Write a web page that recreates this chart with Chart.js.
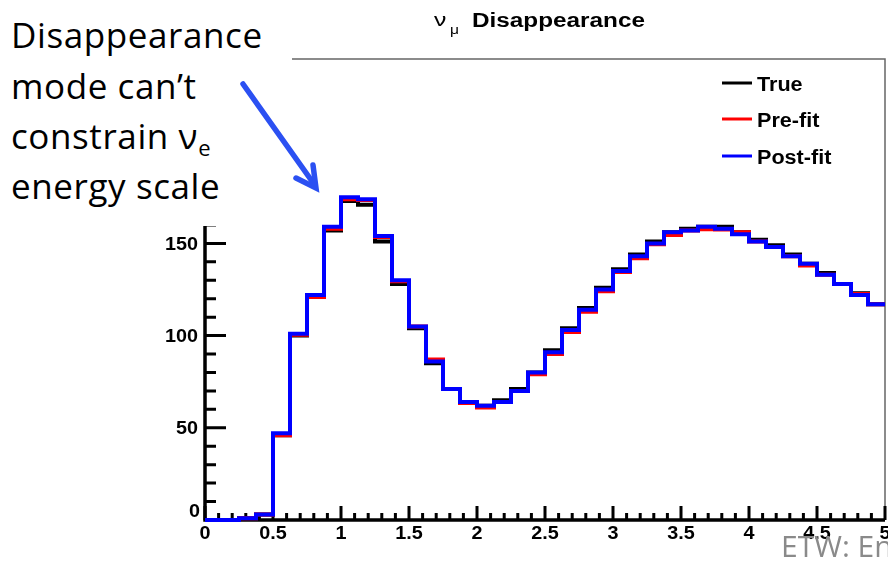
<!DOCTYPE html>
<html>
<head>
<meta charset="utf-8">
<script src="https://cdn.jsdelivr.net/npm/chart.js@4.4.1/dist/chart.umd.min.js"></script>
<style>
  body { margin: 0; background: #fff; }
  #wrap { position: relative; width: 888px; height: 564px; overflow: hidden; }
  #plot { position: absolute; left: 0; top: 0; }
  .note {
    position: absolute; left: 0; top: 0; width: 292px; height: 226px; background: #fff;
  }
  .note div {
    position: absolute; left: 11px; white-space: nowrap;
    font: 35px "Open Sans", sans-serif; color: #000; line-height: 40px;
    letter-spacing: 0.6px;
  }
  .note sub { font-size: 22px; vertical-align: -7px; letter-spacing: 0; }
  .footer {
    position: absolute; left: 781px; top: 528px; white-space: nowrap;
    font: 30px "Open Sans", sans-serif; color: #8a8a8a; line-height: 36px;
  }
  svg { position: absolute; left: 0; top: 0; }
</style>
</head>
<body>
<div id="wrap">
  <canvas id="plot" width="888" height="564"></canvas>
  <div class="note">
    <div style="top:15px">Disappearance</div>
    <div style="top:66px">mode can’t</div>
    <div style="top:116px">constrain &nu;<sub>e</sub></div>
    <div style="top:166px">energy scale</div>
  </div>
  <div class="footer">ETW: Energy</div>
  <svg width="888" height="564">
    <g stroke="#2b50f2" stroke-width="5.5" fill="none" stroke-linecap="round" stroke-linejoin="miter">
      <line x1="243" y1="84" x2="314" y2="184"/>
      <polyline points="296,178 316,188 313,165"/>
    </g>
  </svg>
</div>
<script>
// 40 bins of 0.125 between 0 and 5
const binWidth = 0.125;
const trueVals = [0, 0, 1, 3, 46, 100, 121, 157, 173, 171, 151, 128, 104, 85, 71, 64, 62, 65, 71, 80,
  92, 104, 115, 126, 136, 144, 151, 156, 158, 159, 159, 156, 152, 149, 144, 139, 134, 128, 123, 117];
const preVals = [0, 0, 1, 3, 46, 100.5, 121, 158, 174, 173.5, 153.5, 129.5, 105, 87, 71, 63.5, 61, 64, 70, 79,
  90, 102, 113, 124, 134.5, 142, 149.5, 154.5, 157, 157.7, 157.6, 156, 151, 148, 143, 138, 133, 128, 122.5, 117];
const postVals = [0, 0, 1, 3, 47, 101, 122, 159, 175, 174, 154, 130, 105, 86, 71, 64, 62, 64, 70, 80,
  91, 103, 114, 125, 135, 143, 150, 156, 157, 159, 158, 155, 151, 148, 143, 139, 133, 128, 122, 117];

const xTickLabels = ["0", "0.5", "1", "1.5", "2", "2.5", "3", "3.5", "4", "4.5", "5"];
const yTickLabels = ["0", "50", "100", "150"];

// histogram outline: one point per low edge, plus the closing upper edge
function histPoints(vals) {
  const pts = vals.map((v, i) => ({ x: i * binWidth, y: v }));
  pts.push({ x: vals.length * binWidth, y: vals[vals.length - 1] });
  return pts;
}

function stretchedText(ctx, text, x, y, sx) {
  ctx.save();
  ctx.translate(x, y);
  ctx.scale(sx, 1);
  ctx.fillText(text, 0, 0);
  ctx.restore();
}

const rootFrame = {
  id: "rootFrame",
  beforeDatasetsDraw(chart) {
    const { ctx, chartArea: a, scales: { x, y } } = chart;
    ctx.save();
    // thin box on top and right
    ctx.strokeStyle = "#666";
    ctx.lineWidth = 1.5;
    ctx.beginPath();
    ctx.moveTo(a.left, a.top);
    ctx.lineTo(a.right, a.top);
    ctx.lineTo(a.right, a.bottom);
    ctx.stroke();

    // ticks point inward, majors every 50 / 0.5
    ctx.strokeStyle = "#000";
    ctx.lineWidth = 3;
    ctx.beginPath();
    for (let i = 0; i <= 25; i++) {
      const py = y.getPixelForValue(i * 10);
      ctx.moveTo(a.left, py);
      ctx.lineTo(a.left + (i % 5 === 0 ? 21 : 11), py);
    }
    for (let i = 0; i <= 50; i++) {
      const px = x.getPixelForValue(i / 10);
      ctx.moveTo(px, a.bottom);
      ctx.lineTo(px, a.bottom - (i % 5 === 0 ? 14 : 7));
    }
    ctx.stroke();

    // axis lines
    ctx.lineWidth = 3.5;
    ctx.beginPath();
    ctx.moveTo(a.left, a.top);
    ctx.lineTo(a.left, a.bottom);
    ctx.lineTo(a.right, a.bottom);
    ctx.stroke();

    // tick labels
    ctx.fillStyle = "#000";
    ctx.font = "bold 18px 'Liberation Sans', Arial, sans-serif";
    ctx.textBaseline = "middle";
    ctx.textAlign = "left";
    yTickLabels.forEach((t) => {
      const v = Number(t);
      const py = v === 0 ? a.bottom - 8 : y.getPixelForValue(v) + 1.5;
      const w = ctx.measureText(t).width * 1.1;
      stretchedText(ctx, t, (v === 0 ? 200 : 198) - w, py, 1.1);
    });
    ctx.textAlign = "center";
    xTickLabels.forEach((t) => {
      stretchedText(ctx, t, x.getPixelForValue(Number(t)), a.bottom + 14, 1.1);
    });
    ctx.restore();
  },
  afterDraw(chart) {
    const { ctx } = chart;
    ctx.save();
    ctx.fillStyle = "#000";
    ctx.textAlign = "left";
    ctx.textBaseline = "alphabetic";

    // title: nu_mu Disappearance
    ctx.font = "19px 'Liberation Sans', Arial, sans-serif";
    stretchedText(ctx, "\u03bd", 434, 26, 1.3);
    ctx.font = "13px 'Liberation Sans', Arial, sans-serif";
    stretchedText(ctx, "\u03bc", 450, 34, 1.2);
    ctx.font = "bold 20px 'Liberation Sans', Arial, sans-serif";
    const tw = ctx.measureText("Disappearance").width;
    stretchedText(ctx, "Disappearance", 472, 27, 173 / tw);

    // legend
    ctx.font = "bold 20px 'Liberation Sans', Arial, sans-serif";
    const rows = [83, 119, 156];
    chart.data.datasets.forEach((ds, i) => {
      ctx.strokeStyle = ds.borderColor;
      ctx.lineWidth = 3;
      ctx.beginPath();
      ctx.moveTo(722, rows[i]);
      ctx.lineTo(752, rows[i]);
      ctx.stroke();
      stretchedText(ctx, ds.label, 757, rows[i] + 7.5, 1.08);
    });
    ctx.restore();
  },
};

new Chart(document.getElementById("plot"), {
  type: "line",
  data: {
    datasets: [
      { label: "True", data: histPoints(trueVals), borderColor: "#000000", order: 2 },
      { label: "Pre-fit", data: histPoints(preVals), borderColor: "#ff0000", order: 1 },
      { label: "Post-fit", data: histPoints(postVals), borderColor: "#0000ff", order: 0 },
    ].map((ds) => ({ ...ds, stepped: "before", borderWidth: 4, pointRadius: 0, fill: false, clip: false })),
  },
  options: {
    responsive: false,
    animation: false,
    layout: { padding: { left: 205, right: 3, top: 59, bottom: 44 } },
    scales: {
      x: { type: "linear", min: 0, max: 5, display: false },
      y: { min: 0, max: 250, display: false },
    },
    plugins: { legend: { display: false }, tooltip: { enabled: false } },
  },
  plugins: [rootFrame],
});
</script>
</body>
</html>
